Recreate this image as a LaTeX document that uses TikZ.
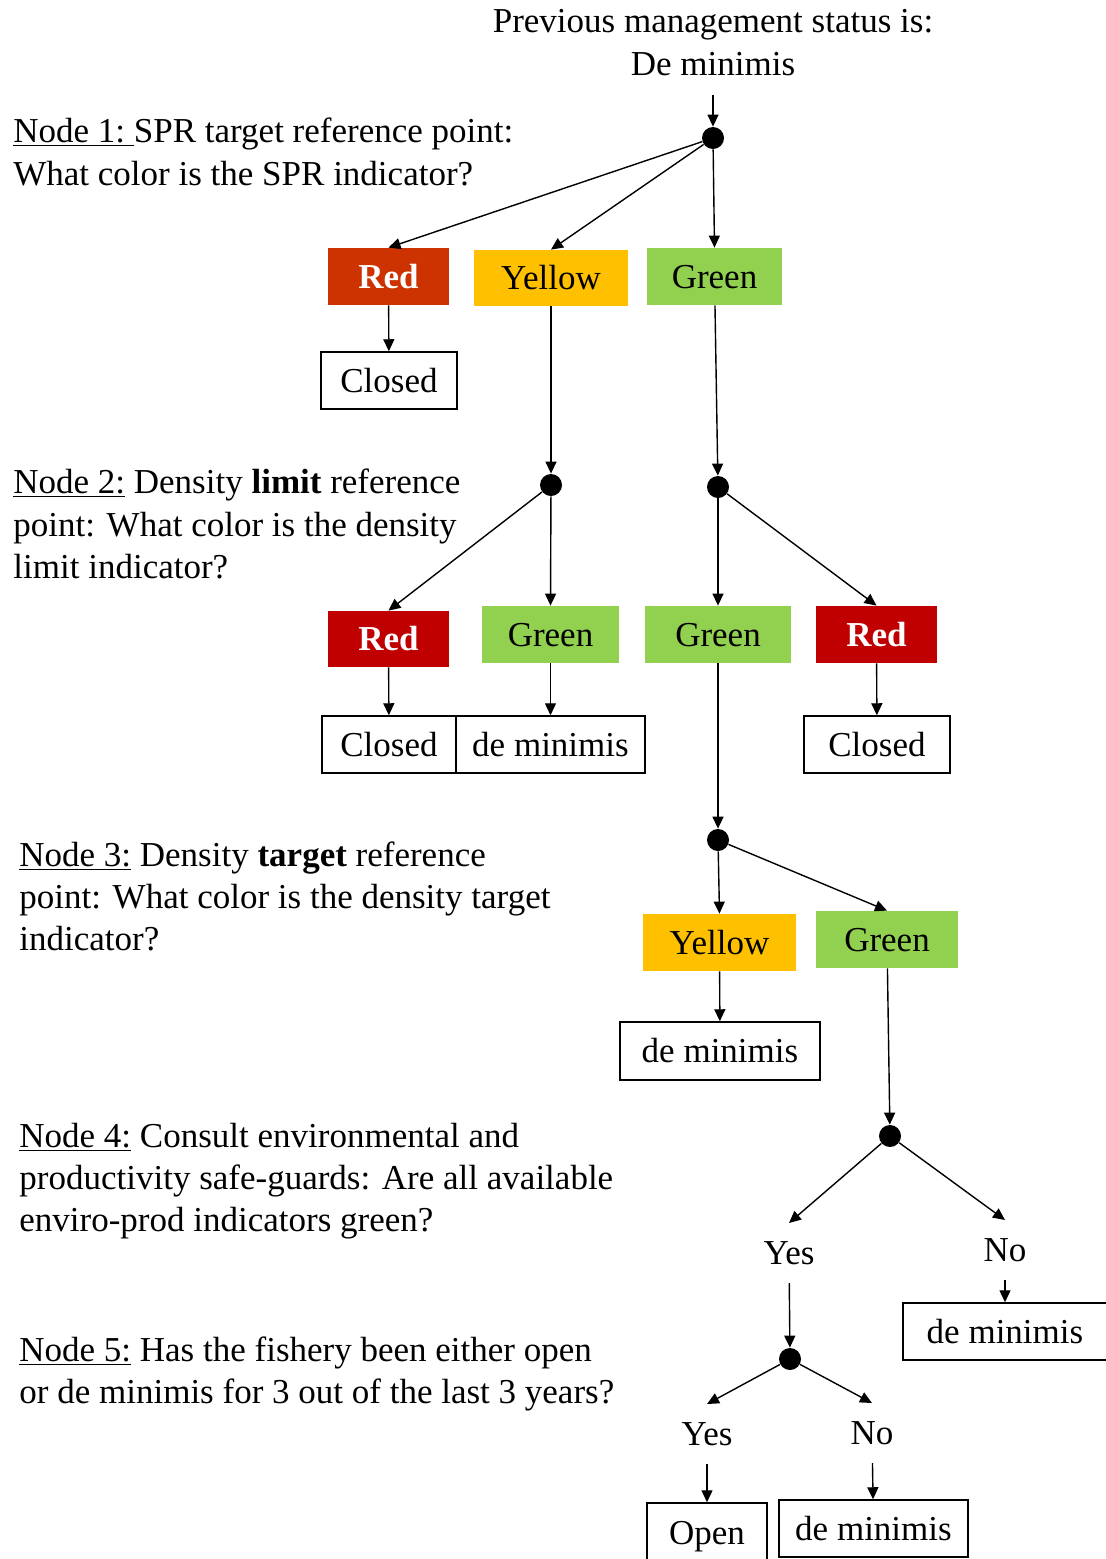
\documentclass[tikz,border=0pt]{standalone}
\usepackage{fontspec}
\setmainfont{Liberation Serif}
\usetikzlibrary{arrows.meta}
\definecolor{redA}{HTML}{CC3300}
\definecolor{redB}{HTML}{C00000}
\definecolor{yel}{HTML}{FFC000}
\definecolor{grn}{HTML}{92D050}
\newcommand\fsz{\fontsize{17.5}{21.5}\selectfont}
\begin{document}
\begin{tikzpicture}[x=0.5pt,y=-0.5pt,
  every node/.style={font=\fsz},
  sz/.style 2 args={minimum width={#1*0.5pt}, minimum height={#2*0.5pt}},
  box/.style={rectangle, inner sep=0pt, text height=11.6pt, text depth=0pt},
  redbox/.style={box, fill=#1, text=white, font=\fsz\bfseries},
  colbox/.style={box, fill=#1},
  outbox/.style={box, draw=black, line width=0.75pt, fill=white},
  dot/.style={circle, fill=black, inner sep=0pt, minimum size=11pt},
  lbl/.style={inner xsep=2pt, inner ysep=9pt, text height=11.6pt, text depth=0pt},
  txt/.style={anchor=base west, inner sep=0pt},
  ttl/.style={anchor=base, inner sep=0pt},
  arr/.style={-{Triangle[length=6pt,width=5.5pt]}, line width=0.7pt},
]
\useasboundingbox (0,0) rectangle (1106,1559);
\fill[white] (0,0) rectangle (1106,1559);

% title
\node[ttl] (t1) at (713,32) {Previous management status is:};
\node[ttl] (t2) at (713,75) {De minimis};
\coordinate (top) at (713,95);

% left texts
\node[txt] (n1a) at (13,142) {\underline{Node 1:\ }SPR target reference point:};
\node[txt] (n1b) at (13,185) {What color is the SPR indicator?};
\node[txt] (n2a) at (13,493) {\underline{Node 2:} Density \textbf{limit} reference};
\node[txt] (n2b) at (13,536) {point: What color is the density};
\node[txt] (n2c) at (13,578) {limit indicator?};
\node[txt] (n3a) at (19,866) {\underline{Node 3:} Density \textbf{target} reference};
\node[txt] (n3b) at (19,908) {point: What color is the density target};
\node[txt] (n3c) at (19,950) {indicator?};
\node[txt] (n4a) at (19,1147) {\underline{Node 4:} Consult environmental and};
\node[txt] (n4b) at (19,1189) {productivity safe-guards: Are all available};
\node[txt] (n4c) at (19,1231) {enviro-prod indicators green?};
\node[txt] (n5a) at (19,1361) {\underline{Node 5:} Has the fishery been either open};
\node[txt] (n5b) at (19,1403) {or de minimis for 3 out of the last 3 years?};

% dots
\node[dot] (d1) at (713,138) {};
\node[dot] (d2a) at (551,485) {};
\node[dot] (d2b) at (718,487) {};
\node[dot] (d3) at (718,840) {};
\node[dot] (d4) at (890,1136) {};
\node[dot] (d5) at (790,1359) {};

% level 1
\node[redbox=redA, sz={121}{57}] (red1) at (388.5,276.5) {Red};
\node[colbox=yel, sz={154}{56}] (yel1) at (551,278) {Yellow};
\node[colbox=grn, sz={135}{57}] (grn1) at (714.5,276.5) {Green};
\node[outbox, sz={136}{57}] (cl1) at (389,380.5) {Closed};

% level 2
\node[redbox=redB, sz={121}{56}] (red2) at (388.5,639) {Red};
\node[colbox=grn, sz={137}{57}] (grn2) at (550.5,634.5) {Green};
\node[colbox=grn, sz={146}{57}] (grn3) at (718,634.5) {Green};
\node[redbox=redB, sz={121}{57}] (red3) at (876.5,634.5) {Red};
\node[outbox, sz={134}{57}] (cl2) at (389,744.5) {Closed};
\node[outbox, sz={189}{57}] (dm2) at (550.5,744.5) {de minimis};
\node[outbox, sz={146}{57}] (cl3) at (877,744.5) {Closed};

% level 3
\node[colbox=yel, sz={153}{57}] (yel3) at (719.5,942.5) {Yellow};
\node[colbox=grn, sz={142}{57}] (grn4) at (887,939.5) {Green};
\node[outbox, sz={200}{58}] (dm3) at (720,1051) {de minimis};

% level 4
\node[lbl] (yes1) at (789,1253) {Yes};
\node[lbl] (no1) at (1005,1250) {No};
\node[outbox, sz={204}{57}] (dm4) at (1005,1331.5) {de minimis};

% level 5
\node[lbl] (yes2) at (707,1434) {Yes};
\node[lbl] (no2) at (872,1433) {No};
\node[outbox, sz={120}{60}] (open) at (707,1533) {Open};
\node[outbox, sz={189}{57}] (dm5) at (873.5,1528.5) {de minimis};

% connectors
\draw[arr] (top) -- (d1);
\draw[arr] (d1) -- (red1.north);
\draw[arr] (d1) -- (yel1.north);
\draw[arr] (d1) -- (grn1.north);
\draw[arr] (red1) -- (cl1);
\draw[arr] (yel1) -- (d2a);
\draw[arr] (grn1) -- (d2b);
\draw[arr] (d2a) -- (red2.north);
\draw[arr] (d2a) -- (grn2.north);
\draw[arr] (d2b) -- (grn3.north);
\draw[arr] (d2b) -- (red3.north);
\draw[arr] (red2) -- (cl2);
\draw[arr] (grn2) -- (dm2);
\draw[arr] (red3) -- (cl3);
\draw[arr] (grn3) -- (d3);
\draw[arr] (d3) -- (yel3.north);
\draw[arr] (d3) -- (grn4.north);
\draw[arr] (yel3) -- (dm3);
\draw[arr] (grn4) -- (d4);
\draw[arr] (d4) -- (yes1.north);
\draw[arr] (d4) -- (no1.north);
\draw[arr] (yes1) -- (d5);
\draw[arr] (no1) -- (dm4);
\draw[arr] (d5) -- (yes2.north);
\draw[arr] (d5) -- (no2.north);
\draw[arr] (yes2) -- (open);
\draw[arr] (no2) -- (dm5);
\end{tikzpicture}
\end{document}
